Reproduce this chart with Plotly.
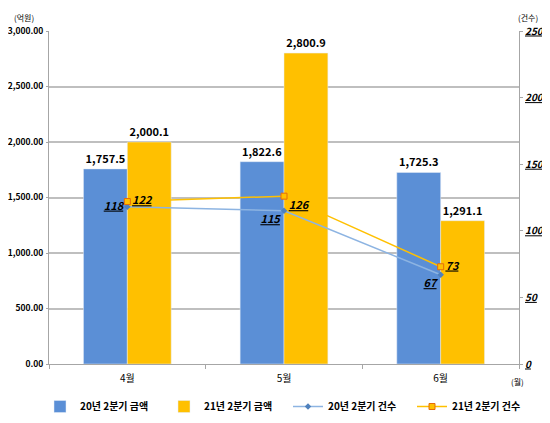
import plotly.graph_objects as go

months = ["4월", "5월", "6월"]
amount_20 = [1757.5, 1822.6, 1725.3]
amount_21 = [2000.1, 2800.9, 1291.1]
count_20 = [118, 115, 67]
count_21 = [122, 126, 73]
left_ticks = [0, 500, 1000, 1500, 2000, 2500, 3000]
right_ticks = [0, 50, 100, 150, 200, 250]

font = "Noto Sans CJK KR"

# the page body adds an 8px margin, so the figure is drawn 8px smaller
OFF = 8
W, H = 550 - OFF, 423 - OFF
l, r, t, b = 49 - OFF, 31, 31 - OFF, 59
pw, ph = W - l - r, H - t - b


def px_x(x):
    return (x - OFF - l) / pw


def px_y(y):
    return (H - b - (y - OFF)) / ph


fig = go.Figure()
fig.add_trace(go.Bar(
    x=months, y=amount_20, name="<b>20년 2분기 금액</b>",
    marker=dict(color="#5B8FD6"),
    text=[f"<b>{v:,.1f}</b>" for v in amount_20], textposition="outside",
    textfont=dict(size=11, color="black", family=font), cliponaxis=False,
))
fig.add_trace(go.Bar(
    x=months, y=amount_21, name="<b>21년 2분기 금액</b>",
    marker=dict(color="#FFC000"),
    text=[f"<b>{v:,.1f}</b>" for v in amount_21], textposition="outside",
    textfont=dict(size=11, color="black", family=font), cliponaxis=False,
))
fig.add_trace(go.Scatter(
    x=months, y=count_20, name="<b>20년 2분기 건수</b>", yaxis="y2",
    mode="lines+markers+text",
    line=dict(color="#8DB4E2", width=1.5),
    marker=dict(symbol="diamond", size=5, color="#4F81BD"),
    text=[f"<b><i><u>{v}</u></i></b>" for v in count_20],
    textposition=["middle left", "bottom left", "bottom left"],
    textfont=dict(size=11, color="black", family=font),
))
fig.add_trace(go.Scatter(
    x=months, y=count_21, name="<b>21년 2분기 건수</b>", yaxis="y2",
    mode="lines+markers+text",
    line=dict(color="#FFC000", width=1.5),
    marker=dict(symbol="square", size=6, color="#FFC000",
                line=dict(color="#E46C0A", width=1)),
    text=[f"<b><i><u>{v}</u></i></b>" for v in count_21],
    textposition=["middle right", "bottom right", "middle right"],
    textfont=dict(size=11, color="black", family=font),
))

fig.update_layout(
    width=W, height=H,
    margin=dict(l=l, r=r, t=t, b=b, autoexpand=False),
    paper_bgcolor="white", plot_bgcolor="white",
    barmode="group", bargap=0.44, bargroupgap=0,
    font=dict(family=font, size=10, color="black"),
    showlegend=True,
    legend=dict(orientation="h", x=px_x(40), xanchor="left", y=px_y(392), yanchor="top",
                font=dict(size=10), traceorder="normal",
                entrywidth=79, entrywidthmode="pixels"),
    xaxis=dict(showline=True, linecolor="#A6A6A6", linewidth=1,
               ticks="outside", ticklen=4, tickcolor="#A6A6A6", ticklabelstandoff=5,
               tickson="boundaries", tickfont=dict(size=10), automargin=False),
    yaxis=dict(range=[0, 3000], tickvals=left_ticks,
               ticktext=[f"<b>{v:,.2f}</b>" for v in left_ticks],
               showgrid=True, gridcolor="#BFBFBF", gridwidth=1.5,
               showline=True, linecolor="#A6A6A6", zeroline=False,
               ticks="outside", ticklen=2, tickcolor="#A6A6A6", ticklabelstandoff=1,
               tickfont=dict(size=8.5), automargin=False),
    yaxis2=dict(range=[0, 250], tickvals=right_ticks, overlaying="y", side="right",
                ticktext=[f"<b><i><u>{v}</u></i></b>" for v in right_ticks],
                showgrid=False, showline=True, linecolor="#A6A6A6", zeroline=False,
                ticks="outside", ticklen=3, tickcolor="#A6A6A6",
                tickfont=dict(size=10), automargin=False),
    annotations=[
        dict(text="(억원)", x=px_x(24), y=px_y(17)),
        dict(text="(건수)", x=px_x(528), y=px_y(17)),
        dict(text="(월)", x=px_x(517), y=px_y(382)),
    ],
)
fig.update_annotations(xref="paper", yref="paper", showarrow=False,
                       xanchor="center", yanchor="middle", font=dict(size=8))

fig.write_html("out.html")
